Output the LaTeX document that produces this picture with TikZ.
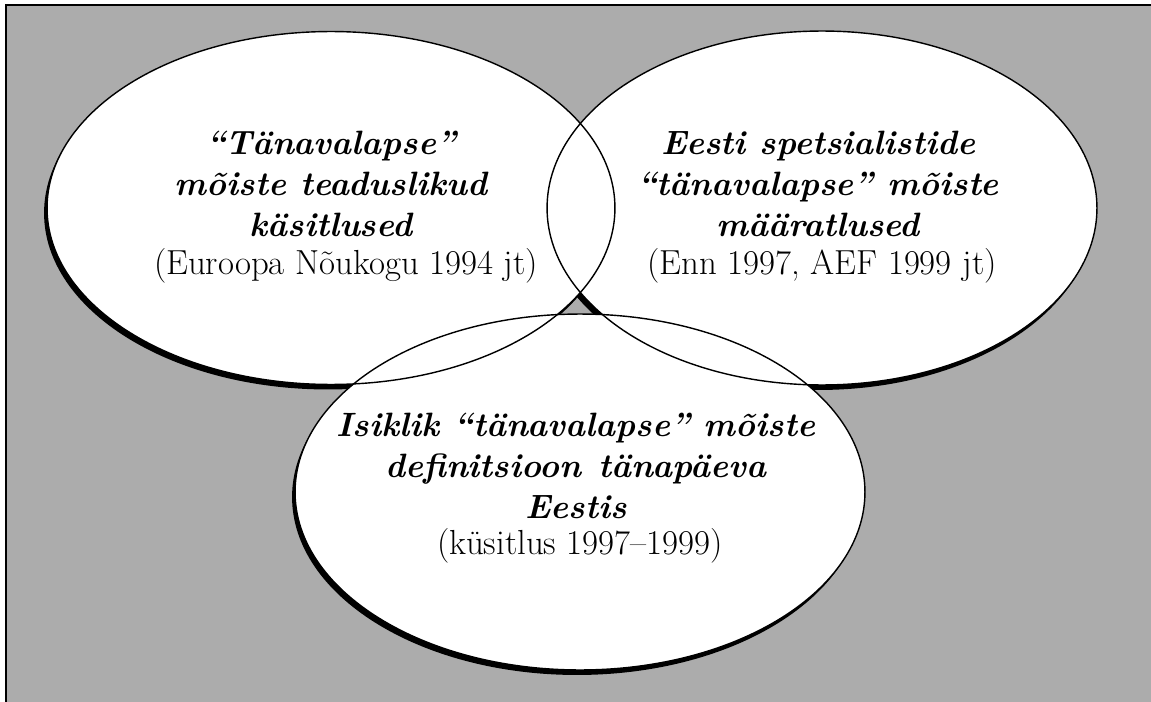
\documentclass[tikz,border=0pt]{standalone}
\usepackage{fontspec}
\usepackage{tikz}
\usetikzlibrary{positioning}
\definecolor{paper}{RGB}{172,172,172}

\begin{document}
\begin{tikzpicture}[x=0.02cm, y=-0.02cm,
    blobshadow/.style={fill=black},
    blobfill/.style={fill=white},
    blobline/.style={draw=black, line width=0.8pt},
    head/.style={font=\fontsize{19.2}{23.3}\selectfont\bfseries\itshape,
        align=center, inner sep=0pt},
    src/.style={font=\fontsize{19.8}{23.3}\selectfont, inner sep=0pt},
  ]
  \useasboundingbox (0,0) rectangle (1151,702);

  % Background sheet
  \fill[paper] (6,5) rectangle (1151,702);
  \draw[line width=1.5pt] (6,702) -- (6,5) -- (1151,5);

  % Ellipses: shadows first, then fills, then outlines
  \foreach \cx/\cy/\rx/\ry in {331/208/5.68/3.53, 822/208/5.50/3.54, 580/492/5.70/3.56} {
      \fill[blobshadow] (\cx-3,\cy+5) ellipse [x radius=\rx cm, y radius=\ry cm];
    }
  \foreach \cx/\cy/\rx/\ry in {331/208/5.68/3.53, 822/208/5.50/3.54, 580/492/5.70/3.56} {
      \fill[blobfill] (\cx,\cy) ellipse [x radius=\rx cm, y radius=\ry cm];
    }
  \foreach \cx/\cy/\rx/\ry in {331/208/5.68/3.53, 822/208/5.50/3.54, 580/492/5.70/3.56} {
      \draw[blobline] (\cx,\cy) ellipse [x radius=\rx cm, y radius=\ry cm];
    }

  % Left set
  \node[head] (scihead) at (331,184) {“Tänavalapse”\\mõiste teaduslikud\\käsitlused};
  \node[src] (scisrc) at (346,266) {(Euroopa Nõukogu 1994 jt)};

  % Right set
  \node[head] (esthead) at (818,184) {Eesti spetsialistide\\“tänavalapse” mõiste\\määratlused};
  \node[src] (estsrc) at (822,266) {(Enn 1997, AEF 1999 jt)};

  % Bottom set
  \node[head] (ownhead) at (576,466) {Isiklik “tänavalapse” mõiste\\definitsioon\enspace tänapäeva\\Eestis};
  \node[src] (ownsrc) at (580,546) {(küsitlus 1997–1999)};
\end{tikzpicture}
\end{document}
